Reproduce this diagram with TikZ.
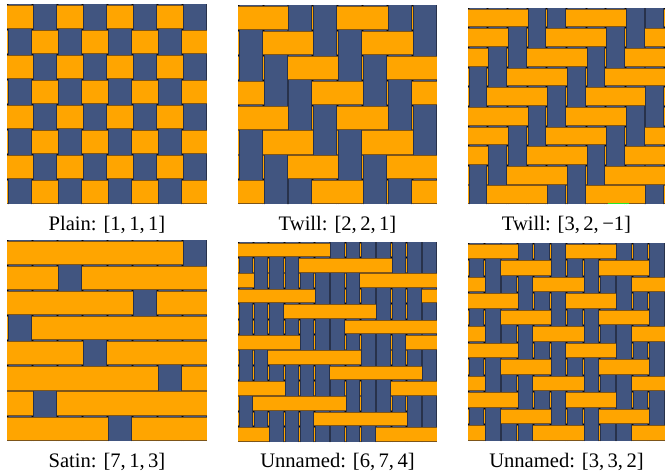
\documentclass[tikz,border=0pt]{standalone}
\usepackage{fontspec}
\setmainfont{Liberation Serif}

\definecolor{warpblue}{RGB}{65,85,128}
\definecolor{weftorange}{RGB}{255,165,0}
\definecolor{warpedge}{RGB}{40,50,75}
\definecolor{weftedge}{RGB}{125,85,25}
\definecolor{gapfill}{RGB}{5,5,5}
\definecolor{markgreen}{RGB}{40,230,40}

\tikzset{
  warpline/.style={draw=warpedge, line width=0.55pt},
  weftline/.style={draw=weftedge, line width=0.55pt},
  lbl/.style={anchor=base, inner sep=0pt, font=\fontsize{20.6}{24}\selectfont},
}

\def\halfgap{0.9}

% #1,#2 lower-left corner; #3,#4 width, height; #5 columns; #6 rows;
% #7 weft floats over, #8 weft goes under, #9 shift per row
\newcommand\weavepanel[9]{%
  \begin{scope}[shift={(#1,#2)}]
    \pgfmathsetmacro\cellw{#3/#5}%
    \pgfmathsetmacro\cellh{#4/#6}%
    \pgfmathtruncatemacro\lastcol{#5-1}%
    \pgfmathtruncatemacro\lastrow{#6-1}%
    \fill[gapfill] (0,0) rectangle (#3,#4);
    % warp threads (vertical)
    \foreach \c in {0,...,\lastcol}{%
      \pgfmathsetmacro\xl{\c*\cellw+\halfgap}%
      \pgfmathsetmacro\xr{(\c+1)*\cellw-\halfgap}%
      \fill[warpblue] (\xl,0) rectangle (\xr,#4);
      \path[warpline] (\xl,0) -- (\xl,#4) (\xr,0) -- (\xr,#4);
    }
    % weft threads (horizontal)
    \foreach \r in {0,...,\lastrow}{%
      \pgfmathsetmacro\yb{#4-(\r+1)*\cellh+\halfgap}%
      \pgfmathsetmacro\yt{#4-\r*\cellh-\halfgap}%
      \fill[weftorange] (0,\yb) rectangle (#3,\yt);
      \path[weftline] (0,\yb) -- (#3,\yb) (0,\yt) -- (#3,\yt);
    }
    % crossings where the warp lies on top
    \foreach \r in {0,...,\lastrow}{%
      \foreach \c in {0,...,\lastcol}{%
        \pgfmathtruncatemacro\phase{Mod(\c-(#9)*\r,#7+#8)}%
        \ifnum\phase<#7\relax\else
          \pgfmathsetmacro\xl{\c*\cellw+\halfgap}%
          \pgfmathsetmacro\xr{(\c+1)*\cellw-\halfgap}%
          \pgfmathsetmacro\yb{#4-(\r+1)*\cellh}%
          \pgfmathsetmacro\yt{#4-\r*\cellh}%
          \fill[warpblue] (\xl,\yb) rectangle (\xr,\yt);
          \path[warpline] (\xl,\yb) -- (\xl,\yt) (\xr,\yb) -- (\xr,\yt);
        \fi
      }
    }
  \end{scope}}

\begin{document}
\begin{tikzpicture}[x=1pt,y=1pt]
  \useasboundingbox[fill=white] (0,0) rectangle (665,475);

  % top row
  \weavepanel{7}{270.5}{200}{200}{8}{8}{1}{1}{1}
  \weavepanel{238}{270.5}{199}{199}{8}{8}{2}{2}{1}
  \weavepanel{468}{270.5}{196.5}{196.5}{10}{10}{3}{2}{-1}
  \fill[markgreen] (608,270.6) rectangle (628.5,272);

  % bottom row
  \weavepanel{7}{34}{200}{201}{8}{8}{7}{1}{3}
  \weavepanel{238}{33}{199}{200}{13}{13}{6}{7}{4}
  \weavepanel{468}{34}{197}{198}{12}{12}{3}{3}{2}

  % captions
  \node[lbl] (plain)   at (107,244)   {Plain: [1,\,1,\,1]};
  \node[lbl] (twillA)  at (337.5,244) {Twill: [2,\,2,\,1]};
  \node[lbl] (twillB)  at (566.5,244) {Twill: [3,\,2,\,−1]};
  \node[lbl] (satin)   at (107,7.5)   {Satin: [7,\,1,\,3]};
  \node[lbl] (unnamA)  at (337.5,7.5) {Unnamed: [6,\,7,\,4]};
  \node[lbl] (unnamB)  at (566.5,7.5) {Unnamed: [3,\,3,\,2]};
\end{tikzpicture}
\end{document}
